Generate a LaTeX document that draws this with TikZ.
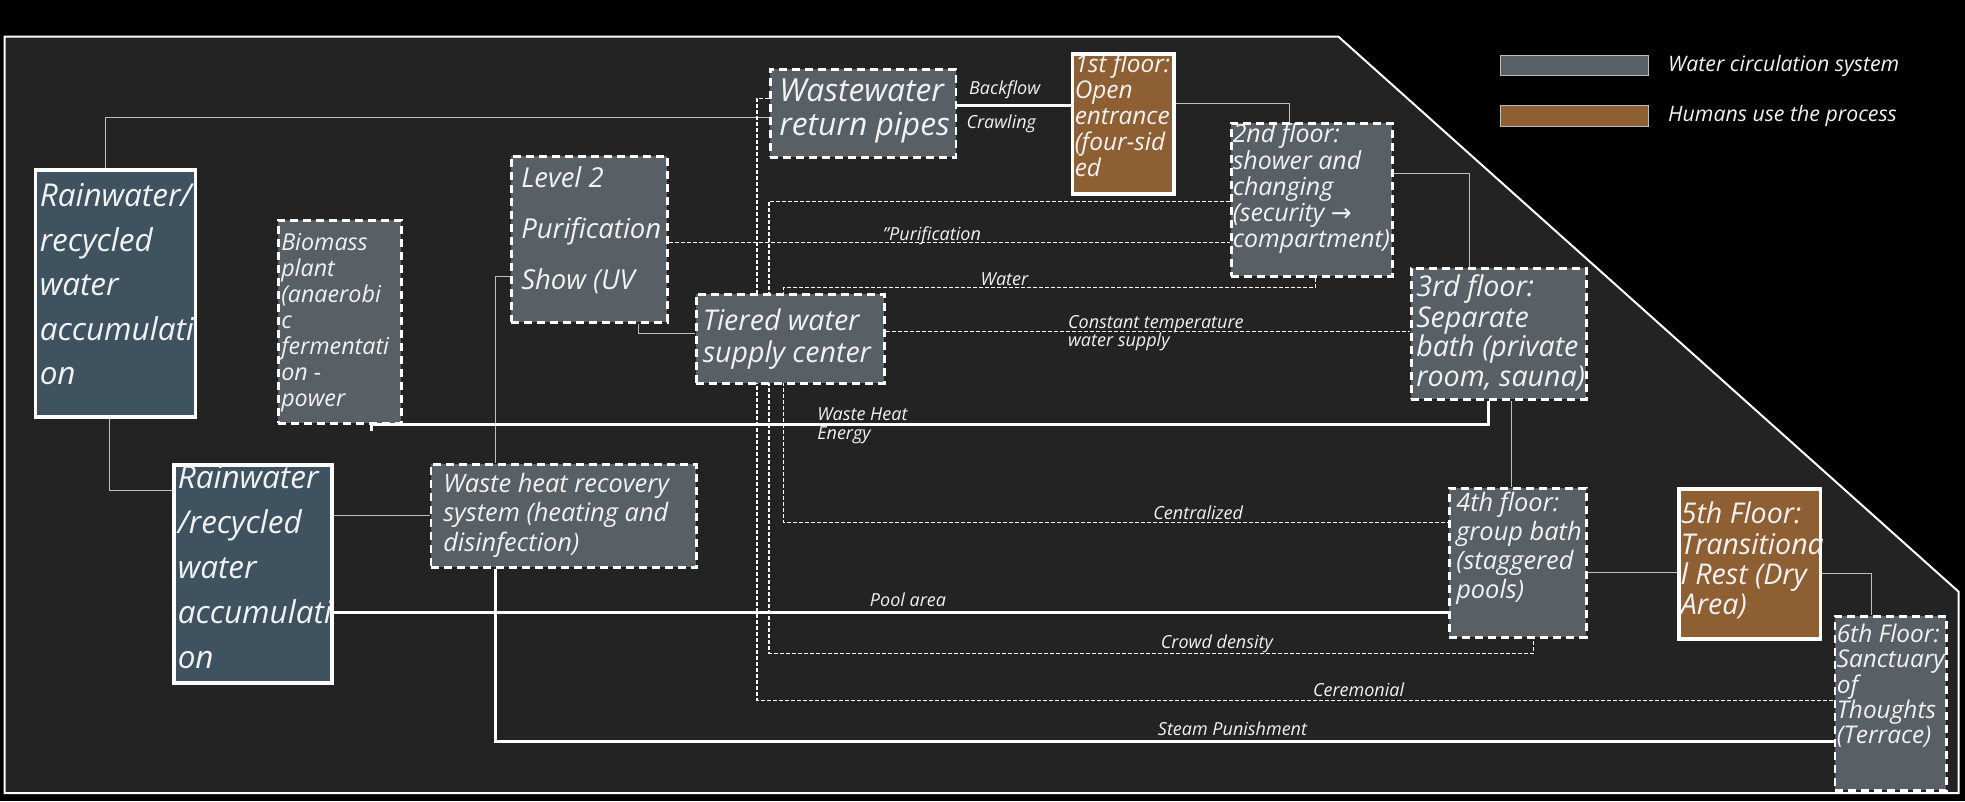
\documentclass[tikz,border=0pt]{standalone}
\usepackage{fontspec}
\setmainfont{Open Sans}
\newfontfamily\arrowfont{DejaVu Sans}
\usepackage{xcolor}
\usepackage{tikz}
\usetikzlibrary{positioning}
\definecolor{wcgray}{RGB}{88,95,101}
\definecolor{rainblue}{RGB}{62,83,95}
\definecolor{humbrown}{RGB}{143,95,52}
\definecolor{panelgray}{RGB}{35,35,35}
\definecolor{linegray}{RGB}{190,190,190}
\definecolor{txtwhite}{RGB}{242,242,242}
\pgfdeclarelayer{back}
\pgfdeclarelayer{lines}
\pgfsetlayers{back,lines,main}
% box text: width, height, left pad, top pad, lines
\newcommand{\boxtxt}[5]{\parbox[c][#2][t]{#1}{\raggedright\leftskip=#3\relax\vspace*{#4}\strut#5}}

\begin{document}
\begin{tikzpicture}[
    x=1pt, y=-1pt,
    wbox/.style={rectangle, draw=white, fill=wcgray, line width=2.5pt, dash pattern=on 8pt off 5pt, inner sep=0pt, anchor=north west, text=txtwhite},
    rbox/.style={rectangle, draw=white, fill=rainblue, line width=3.5pt, inner sep=0pt, anchor=north west, text=txtwhite},
    hbox/.style={rectangle, draw=white, fill=humbrown, line width=3.5pt, inner sep=0pt, anchor=north west, text=txtwhite},
    legbar/.style={rectangle, draw=linegray, line width=1pt, minimum width=148pt, inner sep=0pt, anchor=north west},
    lbl/.style={inner sep=0pt, text=txtwhite, font=\fontsize{18}{20}\selectfont\itshape},
    thinline/.style={linegray, line width=1.3pt},
    thickline/.style={white, line width=3pt},
    dline/.style={white, line width=1.1pt, dash pattern=on 4pt off 2pt}
]
\useasboundingbox (0,0) rectangle (1965,801);

% Panel
\begin{pgfonlayer}{back}
\fill[black] (0,0) rectangle (1965,801);
\draw[fill=panelgray, draw=white, line width=2pt] (4.5,36.7) -- (1338.5,36.7) -- (1958.6,591.7) -- (1958.6,793) -- (4.5,793) -- cycle;
\end{pgfonlayer}

% Water storage
\node[rbox, font=\fontsize{31.5}{44.5}\selectfont\itshape] (rain1) at (33.5,168) {\boxtxt{160pt}{247pt}{4.5pt}{5.8pt}{Rainwater/\\recycled\\water\\accumulati\\on}};
\node[rbox, font=\fontsize{31.5}{45}\selectfont\itshape] (rain2) at (172,463) {\boxtxt{158pt}{218pt}{4pt}{-7.5pt}{Rainwater\\/recycled\\water\\accumulati\\on}};

% Water circulation system
\node[wbox, font=\fontsize{23.3}{26}\selectfont\itshape] (biomass) at (277,219) {\boxtxt{123pt}{203pt}{3pt}{11.8pt}{Biomass\\plant\\(anaerobi\\c\\fermentati\\on -\\power}};
\node[wbox, font=\fontsize{27.5}{51}\selectfont\itshape] (lv2) at (510,155) {\boxtxt{156pt}{166pt}{10pt}{-4.7pt}{Level 2\\Purification\\Show (UV}};
\node[wbox, font=\fontsize{31.8}{32}\selectfont\itshape] (ww) at (769,68) {\boxtxt{185.5pt}{88pt}{9pt}{9.6pt}{Wastewater\\return pipes}};
\node[wbox, font=\fontsize{28.6}{30}\selectfont\itshape] (tiered) at (695,293) {\boxtxt{188pt}{89pt}{6.5pt}{15pt}{Tiered water\\supply center}};
\node[wbox, font=\fontsize{25.4}{29.5}\selectfont\itshape] (wh) at (429.5,463) {\boxtxt{265.5pt}{103pt}{12.5pt}{7.3pt}{Waste heat recovery\\system (heating and\\disinfection)}};

% Floors
\node[hbox, font=\fontsize{24.4}{26}\selectfont\itshape] (f1) at (1070.5,52) {\boxtxt{101.5pt}{140pt}{2.5pt}{0.3pt}{1st floor:\\Open\\entrance\\(four-sid\\ed}};
\node[wbox, font=\fontsize{24.9}{25.7}\selectfont\itshape] (f2) at (1230,122) {\boxtxt{161pt}{153pt}{1.5pt}{0pt}{2nd floor:\\shower and\\changing\\(security {\arrowfont →}\\compartment)}};
\node[wbox, font=\fontsize{28.6}{29.5}\selectfont\itshape] (f3) at (1410,267) {\boxtxt{175pt}{131pt}{5pt}{6.4pt}{3rd floor:\\Separate\\bath (private\\room, sauna)}};
\node[wbox, font=\fontsize{25.4}{29}\selectfont\itshape] (f4) at (1448,487) {\boxtxt{137pt}{149pt}{7pt}{2.7pt}{4th floor:\\group bath\\(staggered\\pools)}};
\node[hbox, font=\fontsize{28.6}{30}\selectfont\itshape] (f5) at (1677,487) {\boxtxt{141.5pt}{150pt}{2pt}{13pt}{5th Floor:\\Transitiona\\l Rest (Dry\\Area)}};
\node[wbox, font=\fontsize{24.4}{25.3}\selectfont\itshape] (f6) at (1833.5,615) {\boxtxt{111.5pt}{174pt}{2pt}{7.8pt}{6th Floor:\\Sanctuary\\of\\Thoughts\\(Terrace)}};

% Legend
\node[legbar, fill=wcgray, minimum height=20pt] (legw) at (1500,55) {};
\node[lbl, font=\fontsize{21.3}{24}\selectfont\itshape, right=19pt of legw] (legwt) {Water circulation system};
\node[legbar, fill=humbrown, minimum height=21pt] (legh) at (1500,105) {};
\node[lbl, font=\fontsize{21.3}{24}\selectfont\itshape, right=19pt of legh] (leght) {Humans use the process};

\begin{pgfonlayer}{lines}
% Thin pipes
\draw[thinline] ([xshift=-9.5pt]rain1.north) |- ([yshift=-4pt]ww.west);
\draw[thinline] ([xshift=-5.5pt]rain1.south) |- ([yshift=83pt]rain2.west);
\draw[thinline] (rain2.east |- wh.west) -- (wh.west);
\draw[thinline] ([yshift=-37pt]lv2.west) -| ([xshift=-68pt]wh.north);
\draw[thinline] ([xshift=49pt]lv2.south) |- ([yshift=5.5pt]tiered.west);
\draw[thinline] ([yshift=20pt]f1.east) -| ([xshift=-22.5pt]f2.north);
\draw[thinline] ([yshift=26.5pt]f2.east) -| ([xshift=-29.5pt]f3.north);
\draw[thinline] ([xshift=12.5pt]f3.south) -- ([xshift=12.5pt]f3.south |- f4.north);
\draw[thinline] ([yshift=-10pt]f4.east) -- ([yshift=-10pt]f4.east -| f5.west);
\draw[thinline] ([yshift=-10pt]f5.east) -| ([xshift=-19pt]f6.north);

% Main flows
\draw[thickline] ([yshift=8pt]ww.east) -- ([yshift=8pt]ww.east -| f1.west)
    node[lbl, pos=0.42, anchor=base, yshift=11pt] {Backflow}
    node[lbl, pos=0.39, anchor=base, yshift=-23pt] {Crawling};
\draw[thickline] ([xshift=31.5pt,yshift=-6pt]biomass.south) -- ([xshift=31.5pt]biomass.south) -| ([xshift=-10.5pt]f3.south)
    node[lbl, pos=0.199, anchor=base west, yshift=4pt] {Waste Heat}
    node[lbl, pos=0.199, anchor=base west, yshift=-15pt] {Energy};
\draw[thickline] ([yshift=-39pt]rain2.east) -- ([yshift=-39pt]rain2.east -| f4.west)
    node[lbl, pos=0.48, anchor=base west, yshift=6pt] {Pool area};
\draw[thickline] ([xshift=-68pt]wh.south) |- ([yshift=-38pt]f6.west)
    node[lbl, pos=0.747, anchor=base west, yshift=6pt] {Steam Punishment};

% Dashed supply lines
\draw[dline] ([yshift=-3pt]lv2.east) -- ([yshift=-3pt]lv2.east -| f2.west)
    node[lbl, pos=0.381, anchor=base west, yshift=2pt] {"Purification};
\draw[dline] ([yshift=15pt]ww.west) -- ++(-12,0) |- ([yshift=3pt]f6.west)
    node[lbl, pos=0.758, anchor=base west, yshift=4pt] {Ceremonial};
\draw[dline] ([yshift=-1.5pt]f2.west) -- ++(-461,0) -- ++(0,452) -| ([xshift=15.5pt]f4.south)
    node[lbl, pos=0.256, anchor=base west, yshift=5pt] {Crowd density};
\draw[dline] ([xshift=3.5pt]f2.south) -- ++(0,10)
    -- ++(-532,0) node[lbl, pos=0.63, anchor=base west, yshift=2pt] {Water}
    |- ([yshift=40.5pt]f4.west) node[lbl, pos=0.778, anchor=base west, yshift=3pt] {Centralized};
\draw[dline] ([yshift=7.5pt]tiered.east) -- ([yshift=7.5pt]tiered.east -| f3.west)
    node[lbl, pos=0.347, anchor=base west, yshift=3pt] {Constant temperature}
    node[lbl, pos=0.347, anchor=base west, yshift=-15pt] {water supply};
\end{pgfonlayer}

\end{tikzpicture}
\end{document}
